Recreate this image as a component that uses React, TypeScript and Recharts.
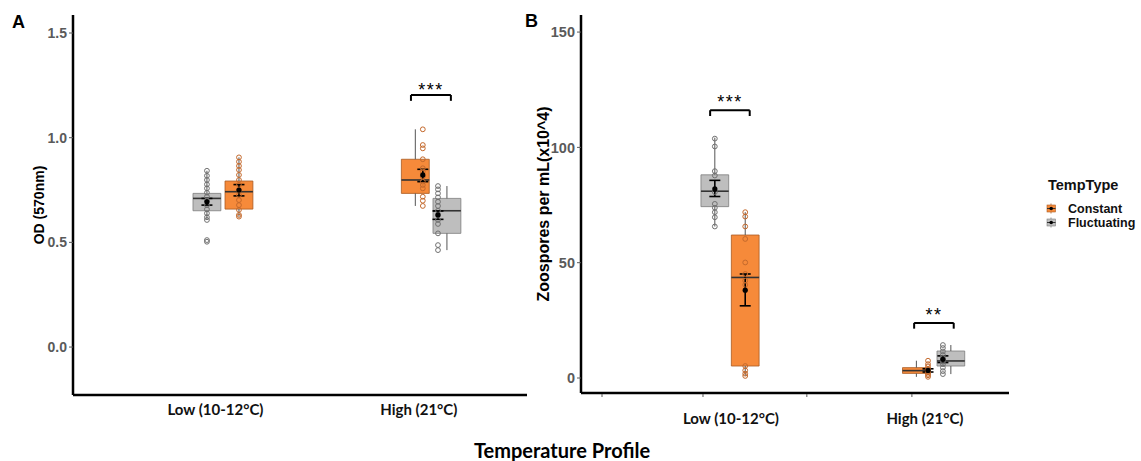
import React from 'react';
import {
  ComposedChart,
  XAxis,
  YAxis,
  Scatter,
  ErrorBar,
  ReferenceArea,
  ReferenceLine,
} from 'recharts';

const categories = ['Low (10-12°C)', 'High (21°C)'];
const tempTypes = ['Constant', 'Fluctuating'];

// group order: Low-Constant, Low-Fluctuating, High-Constant, High-Fluctuating
const groupCategory = [0, 0, 1, 1];
const groupType = [0, 1, 0, 1];

// A: OD (570nm)
const odLow = [0.623, 0.607, 0.674, 0.463];
const odQ1 = [0.659, 0.651, 0.734, 0.543];
const odMedian = [0.742, 0.71, 0.798, 0.651];
const odQ3 = [0.793, 0.734, 0.897, 0.71];
const odHigh = [0.906, 0.842, 1.04, 0.769];
const odMean = [0.75, 0.694, 0.822, 0.631];
const odSeLow = [0.722, 0.678, 0.79, 0.61];
const odSeHigh = [0.776, 0.71, 0.849, 0.65];
const odPoints = [
  [0.906, 0.885, 0.865, 0.846, 0.822, 0.798, 0.774, 0.75, 0.726, 0.702, 0.678, 0.655, 0.631, 0.623],
  [0.842, 0.818, 0.798, 0.777, 0.758, 0.737, 0.718, 0.699, 0.678, 0.658, 0.639, 0.62, 0.607, 0.511, 0.503],
  [1.04, 0.965, 0.949, 0.897, 0.854, 0.838, 0.814, 0.79, 0.774, 0.758, 0.718, 0.699, 0.674],
  [0.769, 0.753, 0.734, 0.715, 0.694, 0.674, 0.651, 0.631, 0.607, 0.588, 0.543, 0.487, 0.463],
];
const odSigLabels = ['', '***'];
const odSigHeights = [null, 1.204];

// B: Zoospores per mL (x10^4)
const zooLow = [0.9, 65.7, 0.5, 1.7];
const zooQ1 = [5.2, 74.3, 2.0, 5.2];
const zooMedian = [43.6, 81.0, 3.2, 7.4];
const zooQ3 = [62.0, 88.1, 4.5, 11.7];
const zooHigh = [71.9, 104.2, 7.5, 14.3];
const zooMean = [38.1, 82.0, 3.3, 8.1];
const zooSeLow = [31.3, 78.7, 2.6, 6.7];
const zooSeHigh = [45.1, 85.7, 4.0, 9.6];
const zooPoints = [
  [71.9, 70.0, 65.7, 60.3, 50.1, 45.1, 42.2, 40.4, 5.2, 3.3, 1.9, 0.9],
  [103.8, 100.4, 89.7, 87.8, 80.6, 75.5, 73.8, 71.9, 69.7, 65.7],
  [7.5, 6.0, 5.0, 4.0, 3.3, 2.5, 1.8, 1.2, 0.5],
  [14.3, 13.0, 11.5, 10.0, 8.8, 8.0, 7.0, 6.0, 4.5, 3.0, 1.7],
];
const zooSigLabels = ['***', '**'];
const zooSigHeights = [116.1, 23.9];

const typeFill = ['#F68A3A', '#BEBEBE'];
const typeEdge = ['#A95A22', '#7C7C7C'];
const typeDot = ['#C4692C', '#707070'];

const makeXTick = (labelTicks: number[], dy: number) => (props: any) => {
  const { x, y, payload } = props;
  const li = labelTicks.indexOf(payload.value);
  if (li >= 0) {
    return (
      <text x={x} y={y + dy} textAnchor="middle" fontFamily="Lato, sans-serif" fontWeight={700} fontSize={15} fill="#111">
        {categories[li]}
      </text>
    );
  }
  return <line x1={x} x2={x} y1={y + 1} y2={y + 4} stroke="#555" strokeWidth={1} />;
};

function Panel(p: any) {
  const groups = p.lo.map((_: number, i: number) => {
    const cx = groupCategory[i] + 1 + p.boxShift[i];
    return { i, cx, px: cx + p.dotShift[i], t: groupType[i] };
  });
  const hw = p.halfWidth;
  const meanData = groups.map((g: any) => ({
    x: g.px,
    y: p.mean[g.i],
    err: [p.mean[g.i] - p.seLo[g.i], p.seHi[g.i] - p.mean[g.i]],
  }));

  return (
    <div style={{ position: 'absolute', left: p.left, top: 0 }}>
      <ComposedChart width={p.width} height={p.height} margin={p.margin}>
        <XAxis
          type="number"
          dataKey="x"
          domain={p.xDomain}
          allowDataOverflow
          ticks={[...p.labelTicks, ...p.markTicks]}
          interval={0}
          tick={makeXTick(p.labelTicks, p.labelDy)}
          tickLine={false}
          tickSize={0}
          tickMargin={0}
          axisLine={{ stroke: '#000', strokeWidth: 2.5 }}
          height={40}
        />
        <YAxis
          type="number"
          dataKey="y"
          domain={p.yDomain}
          allowDataOverflow
          ticks={p.yTicks}
          interval={0}
          width={p.yAxisWidth}
          tickFormatter={(v: number) => v.toFixed(p.yDigits)}
          tick={{ fill: '#5a5a5a', fontSize: p.tickFont, fontWeight: 700 }}
          tickSize={4}
          tickMargin={2}
          tickLine={{ stroke: '#5a5a5a' }}
          axisLine={{ stroke: '#000', strokeWidth: 2.5 }}
          label={{ value: p.yTitle, angle: -90, position: 'center', fontSize: p.yTitleSize, fontWeight: 700, fill: '#000' }}
        />

        {groups.flatMap((g: any) => [
          <ReferenceLine key={`wl${g.i}`} segment={[{ x: g.cx, y: p.lo[g.i] }, { x: g.cx, y: p.q1[g.i] }]} stroke="#555" strokeWidth={1} />,
          <ReferenceLine key={`wh${g.i}`} segment={[{ x: g.cx, y: p.q3[g.i] }, { x: g.cx, y: p.hi[g.i] }]} stroke="#555" strokeWidth={1} />,
        ])}
        {groups.map((g: any) => (
          <ReferenceArea
            key={`box${g.i}`}
            x1={g.cx - hw}
            x2={g.cx + hw}
            y1={p.q1[g.i]}
            y2={p.q3[g.i]}
            fill={typeFill[g.t]}
            fillOpacity={1}
            stroke={typeEdge[g.t]}
            strokeWidth={0.8}
          />
        ))}
        {groups.map((g: any) => (
          <ReferenceLine
            key={`med${g.i}`}
            segment={[{ x: g.cx - hw, y: p.median[g.i] }, { x: g.cx + hw, y: p.median[g.i] }]}
            stroke="#333"
            strokeWidth={1.6}
          />
        ))}

        {p.sigHeights.flatMap((h: number | null, c: number) => {
          if (h == null) return [];
          const a = c + 1 - p.bracketHalf;
          const b = c + 1 + p.bracketHalf;
          return [
            <ReferenceLine
              key={`sh${c}`}
              segment={[{ x: a, y: h }, { x: b, y: h }]}
              stroke="#000"
              strokeWidth={2}
              label={{ value: p.sigLabels[c], position: 'top', offset: p.sigOffset, fontSize: 18, fill: '#000', letterSpacing: 1.5 }}
            />,
            <ReferenceLine key={`sa${c}`} segment={[{ x: a, y: h }, { x: a, y: h - p.bracketTip }]} stroke="#000" strokeWidth={2} />,
            <ReferenceLine key={`sb${c}`} segment={[{ x: b, y: h }, { x: b, y: h - p.bracketTip }]} stroke="#000" strokeWidth={2} />,
          ];
        })}

        {groups.map((g: any) => (
          <Scatter
            key={`pts${g.i}`}
            data={p.points[g.i].map((v: number) => ({ x: g.px, y: v }))}
            isAnimationActive={false}
            shape={(s: any) => <circle cx={s.cx} cy={s.cy} r={2.4} fill="none" stroke={typeDot[g.t]} strokeWidth={1} />}
          />
        ))}
        <Scatter
          data={meanData}
          isAnimationActive={false}
          shape={(s: any) => <circle cx={s.cx} cy={s.cy} r={2.6} fill="#000" />}
        >
          <ErrorBar dataKey="err" direction="y" width={5.5} stroke="#000" strokeWidth={1.6} isAnimationActive={false} />
        </Scatter>
      </ComposedChart>
    </div>
  );
}

export default function App() {
  return (
    <div
      style={{
        position: 'absolute',
        left: 0,
        top: 0,
        width: 1141,
        height: 461,
        background: '#fff',
        overflow: 'hidden',
        fontFamily: '"Liberation Sans", Arial, sans-serif',
      }}
    >
      <Panel
        left={0}
        width={540}
        height={440}
        margin={{ top: 15, right: 13, bottom: 5, left: 5 }}
        yAxisWidth={68}
        yDomain={[-0.229, 1.586]}
        yTicks={[0, 0.5, 1.0, 1.5]}
        yDigits={1}
        yTitle="OD (570nm)"
        yTitleSize={14}
        tickFont={14}
        xDomain={[0.279, 2.462]}
        labelTicks={[0.964, 1.942]}
        markTicks={[]}
        labelDy={20}
        lo={odLow}
        q1={odQ1}
        median={odMedian}
        q3={odQ3}
        hi={odHigh}
        mean={odMean}
        seLo={odSeLow}
        seHi={odSeHigh}
        points={odPoints}
        boxShift={[0.077, -0.077, -0.075, 0.077]}
        dotShift={[0, 0, 0.036, -0.043]}
        halfWidth={0.067}
        sigLabels={odSigLabels}
        sigHeights={odSigHeights}
        sigOffset={-1}
        bracketHalf={0.096}
        bracketTip={0.028}
      />
      <Panel
        left={500}
        width={520}
        height={440}
        margin={{ top: 15, right: 11, bottom: 7, left: 5 }}
        yAxisWidth={76}
        yDomain={[-6.5, 157.4]}
        yTicks={[0, 50, 100, 150]}
        yDigits={0}
        yTitle="Zoospores per mL(x10^4)"
        yTitleSize={16}
        tickFont={14.5}
        xDomain={[0.27, 2.368]}
        labelTicks={[1.005, 1.956]}
        markTicks={[0.373, 0.868, 1.377, 1.892]}
        labelDy={31}
        lo={zooLow}
        q1={zooQ1}
        median={zooMedian}
        q3={zooQ3}
        hi={zooHigh}
        mean={zooMean}
        seLo={zooSeLow}
        seHi={zooSeHigh}
        points={zooPoints}
        boxShift={[0.075, -0.074, -0.086, 0.083]}
        dotShift={[0, 0, 0.057, -0.039]}
        halfWidth={0.068}
        sigLabels={zooSigLabels}
        sigHeights={zooSigHeights}
        sigOffset={2}
        bracketHalf={0.097}
        bracketTip={2.5}
      />

      <svg width={1141} height={461} style={{ position: 'absolute', left: 0, top: 0, pointerEvents: 'none' }}>
        <text x={12} y={28} fontSize={18} fontWeight={700} fill="#000">A</text>
        <text x={525} y={27} fontSize={18} fontWeight={700} fill="#000">B</text>
        <text x={562} y={458} textAnchor="middle" fontFamily="Lato, sans-serif" fontWeight={700} fontSize={20} fill="#000">
          Temperature Profile
        </text>

        <text x={1048} y={190} fontSize={14.5} fontWeight={700} fill="#111">TempType</text>
        {tempTypes.map((t, i) => {
          const y = 205 + i * 14;
          return (
            <g key={t}>
              <line x1={1051} x2={1051} y1={y - 1.5} y2={y + 8.5} stroke={typeEdge[i]} strokeWidth={0.8} />
              <rect x={1047} y={y} width={8.5} height={7} fill={typeFill[i]} stroke={typeEdge[i]} strokeWidth={0.6} />
              <line x1={1047} x2={1055.5} y1={y + 3.5} y2={y + 3.5} stroke="#333" strokeWidth={1} />
              <circle cx={1051.2} cy={y + 3.5} r={1.8} fill="#000" />
              <text x={1068} y={y + 8} fontSize={12.5} fontWeight={700} fill="#111">{t}</text>
            </g>
          );
        })}
      </svg>
    </div>
  );
}
